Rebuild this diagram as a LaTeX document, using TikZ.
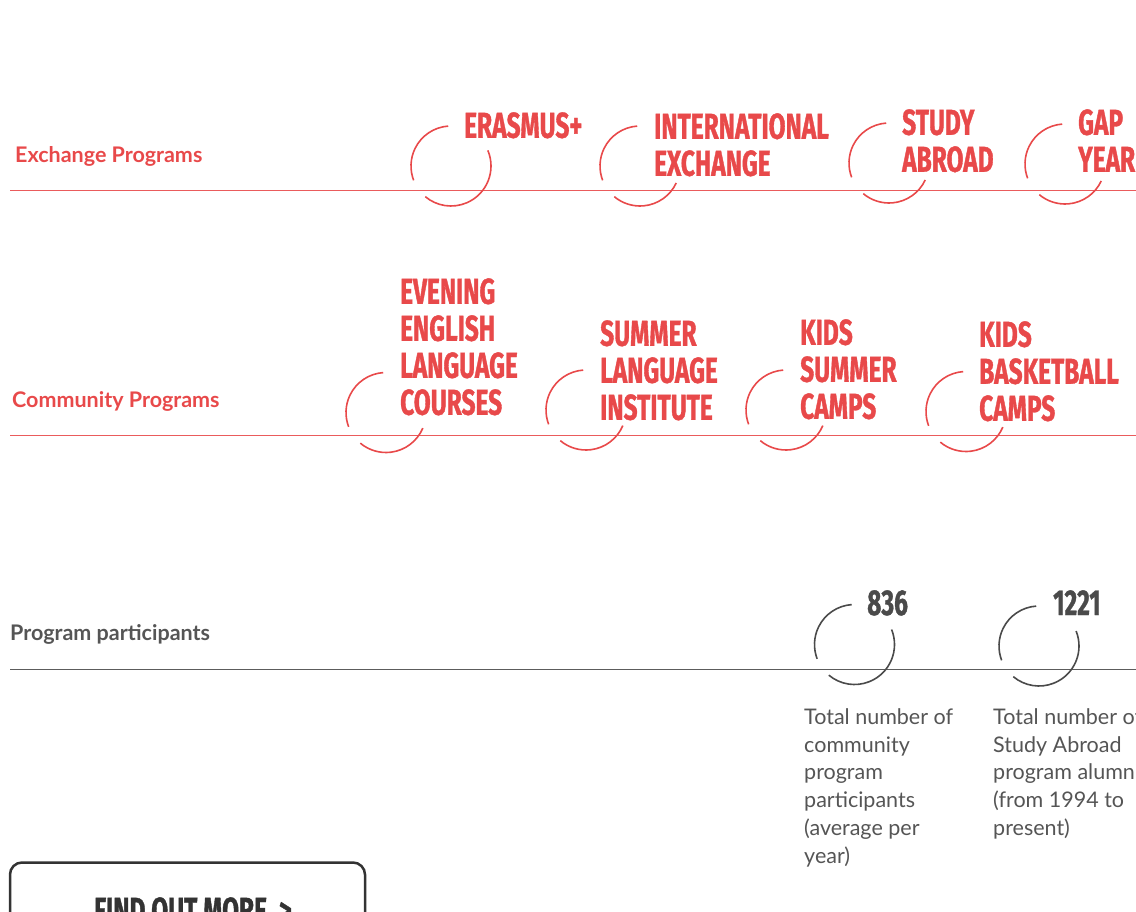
\documentclass[tikz,border=0pt]{standalone}
\usepackage{fontspec}
\setmainfont{Lato}
\newfontfamily\bebas{Fira Sans}[FakeStretch=0.68, FakeBold=1]
\usetikzlibrary{calc}
\definecolor{cred}{HTML}{E8494A}
\definecolor{cgray}{HTML}{4A4A4A}
\definecolor{ctext}{HTML}{555555}
\definecolor{cbtn}{HTML}{333333}
\tikzset{
  big/.style={anchor=north west, inner sep=0pt, align=left, text=cred,
    font=\bebas\bfseries\fontsize{36}{37}\selectfont},
  num/.style={big, text=cgray},
  sec/.style={anchor=base west, inner sep=0pt, font=\bfseries\fontsize{21.5}{25}\selectfont},
  desc/.style={anchor=north west, inner sep=0pt, align=left, text=ctext,
    font=\fontsize{21.5}{27.7}\selectfont},
  rulered/.style={line width=1pt, draw=cred!90},
  rulegray/.style={line width=1pt, draw=cgray!90},
  ringline/.style={line width=1.6pt},
}
% ring: centre x, centre y, start parameter of right arc, colour
\newcommand\myring[4]{%
  \draw[ringline,#4] ($(#1,#2)+(-94:40)$) arc[start angle=-94, end angle=-201, radius=40];
  \draw[ringline,#4] ($(#1,#2)+(#3:40)$) arc[start angle=#3, end angle=130, radius=40];
}
\begin{document}
\begin{tikzpicture}[x=1pt, y=-1pt]
\useasboundingbox (0,0) rectangle (1136,911);
\clip (0,0) rectangle (1136,911);

% Exchange programs
\node[sec, text=cred] (exch) at (15,162.5) {Exchange Programs};
\coordinate (r1a) at (10,190.3);
\coordinate (r1b) at (1136,190.3);
\draw[rulered] (r1a) -- (r1b);
\myring{451}{166}{-23}{cred}
\myring{640}{166}{25}{cred}
\myring{889}{163}{25}{cred}
\myring{1065}{164}{25}{cred}
\node[big] (erasmus) at (464,112) {ERASMUS+};
\node[big] (intl) at (654,113) {INTERNATIONAL\\EXCHANGE};
\node[big] (study) at (902,109) {STUDY\\ABROAD};
\node[big] (gap) at (1078,109) {GAP\\YEAR};

% Community programs
\node[sec, text=cred] (comm) at (12,407) {Community Programs};
\coordinate (r2a) at (10,435.7);
\coordinate (r2b) at (1136,435.7);
\draw[rulered] (r2a) -- (r2b);
\myring{386}{412.5}{23}{cred}
\myring{586}{410}{23}{cred}
\myring{786}{410}{23}{cred}
\myring{966}{411.5}{23}{cred}
\node[big] (evening) at (400,278) {EVENING\\ENGLISH\\LANGUAGE\\COURSES};
\node[big] (sli) at (600,320) {SUMMER\\LANGUAGE\\INSTITUTE};
\node[big] (ksc) at (800,319) {KIDS\\SUMMER\\CAMPS};
\node[big] (kbc) at (979,321) {KIDS\\BASKETBALL\\CAMPS};

% Program participants
\node[sec, text=ctext] (part) at (10,640) {Program participants};
\coordinate (r3a) at (10,669);
\coordinate (r3b) at (1136,669);
\draw[rulegray] (r3a) -- (r3b);
\myring{854.5}{644.5}{-22}{cgray}
\myring{1039}{646}{-22}{cgray}
\node[num] (n1) at (867,590) {836};
\node[num] (n2) at (1053,590) {1221};
\node[desc] (d1) at (804,708.5) {Total number of\\community\\program\\participants\\(average per\\year)};
\node[desc] (d2) at (993,708.5) {Total number of\\Study Abroad\\program alumni\\(from 1994 to\\present)};

% Button
\draw[line width=2.5pt, draw=cbtn, rounded corners=12pt] (10,960) rectangle (365,862.5);
\node[big, text=cbtn] (find) at (94,897) {FIND OUT MORE\hspace{12pt}>};
\end{tikzpicture}
\end{document}
